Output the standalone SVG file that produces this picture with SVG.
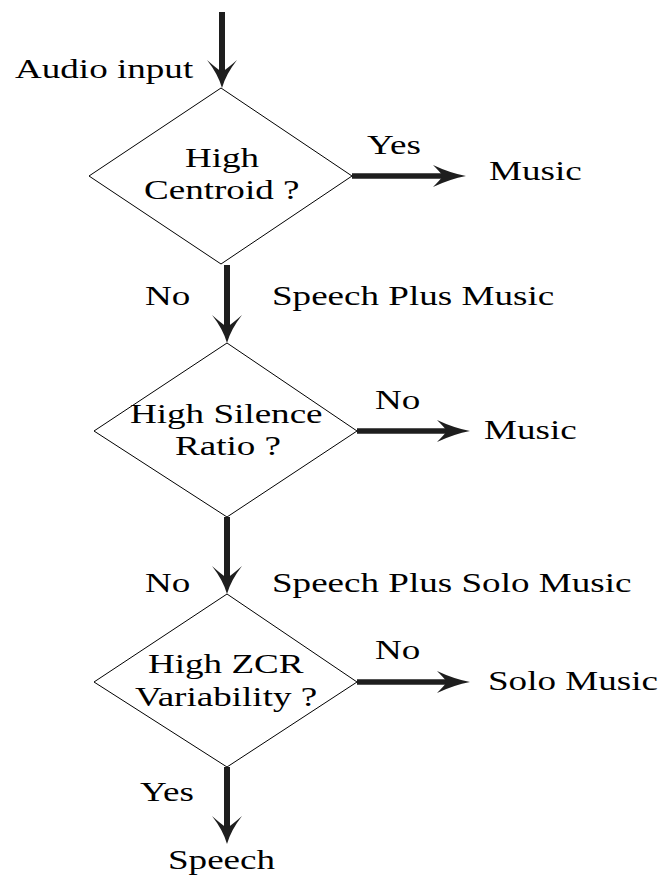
<svg xmlns="http://www.w3.org/2000/svg" width="661" height="876" viewBox="0 0 661 876">
<style>
text{font-family:"Liberation Serif","Times New Roman",serif;font-size:26.5px;fill:#000}
.d{fill:#fff;stroke:#000;stroke-width:1}
.v{stroke:#1e1e1e;stroke-width:6;fill:none}
.h{stroke:#1e1e1e;stroke-width:5.5;fill:none}
.ah{fill:#1e1e1e}
</style>
<rect width="661" height="876" fill="#fff"/>
<g id="connectors">
<line class="v" x1="222" y1="12" x2="222" y2="74"/>
<path class="ah" d="M222 88 Q218 74 207 60 Q216 68 222 72 Q228 68 237 60 Q226 74 222 88 Z"/>
<line class="h" x1="352" y1="176" x2="444" y2="176"/>
<path class="ah" d="M466 176 Q450 173 433 165 Q440 172 443 176 Q440 180 433 187 Q450 179 466 176 Z"/>
<line class="v" x1="227" y1="265" x2="227" y2="329"/>
<path class="ah" d="M227 343 Q223 329 212 315 Q221 323 227 327 Q233 323 242 315 Q231 329 227 343 Z"/>
<line class="h" x1="357" y1="431" x2="448" y2="431"/>
<path class="ah" d="M470 431 Q454 428 437 420 Q444 427 447 431 Q444 435 437 442 Q454 434 470 431 Z"/>
<line class="v" x1="227" y1="517" x2="227" y2="580"/>
<path class="ah" d="M227 594 Q223 580 212 566 Q221 574 227 578 Q233 574 242 566 Q231 580 227 594 Z"/>
<line class="h" x1="357" y1="682" x2="448" y2="682"/>
<path class="ah" d="M470 682 Q454 679 437 671 Q444 678 447 682 Q444 686 437 693 Q454 685 470 682 Z"/>
<line class="v" x1="227" y1="767" x2="227" y2="830"/>
<path class="ah" d="M227 844 Q223 830 212 816 Q221 824 227 828 Q233 824 242 816 Q231 830 227 844 Z"/>
</g>
<g id="labels">
<text transform="translate(15 78) scale(1.4 1)">Audio input</text>
<text transform="translate(367 154) scale(1.4 1)">Yes</text>
<text transform="translate(145 305) scale(1.4 1)">No</text>
<text transform="translate(272 305) scale(1.4 1)">Speech Plus Music</text>
<text transform="translate(375 409) scale(1.4 1)">No</text>
<text transform="translate(145 592) scale(1.4 1)">No</text>
<text transform="translate(272 592) scale(1.4 1)">Speech Plus Solo Music</text>
<text transform="translate(375 659) scale(1.4 1)">No</text>
<text transform="translate(140 801) scale(1.4 1)">Yes</text>
</g>
<g id="d1">
<polygon class="d" points="221,88 352,176 221,264 89,176"/>
<text transform="translate(185 167) scale(1.4 1)">High</text>
<text transform="translate(144 199) scale(1.4 1)">Centroid ?</text>
</g>
<g id="d2">
<polygon class="d" points="227,343 357,431 227,517 94,431"/>
<text transform="translate(130 423) scale(1.4 1)">High Silence</text>
<text transform="translate(175 455) scale(1.4 1)">Ratio ?</text>
</g>
<g id="d3">
<polygon class="d" points="227,594 357,682 227,767 94,682"/>
<text transform="translate(148 673) scale(1.4 1)">High ZCR</text>
<text transform="translate(135 706) scale(1.4 1)">Variability ?</text>
</g>
<g id="music1"><text transform="translate(489 180) scale(1.4 1)">Music</text></g>
<g id="music2"><text transform="translate(484 439) scale(1.4 1)">Music</text></g>
<g id="solo"><text transform="translate(488 690) scale(1.4 1)">Solo Music</text></g>
<g id="speech"><text transform="translate(168 869) scale(1.4 1)">Speech</text></g>
</svg>
